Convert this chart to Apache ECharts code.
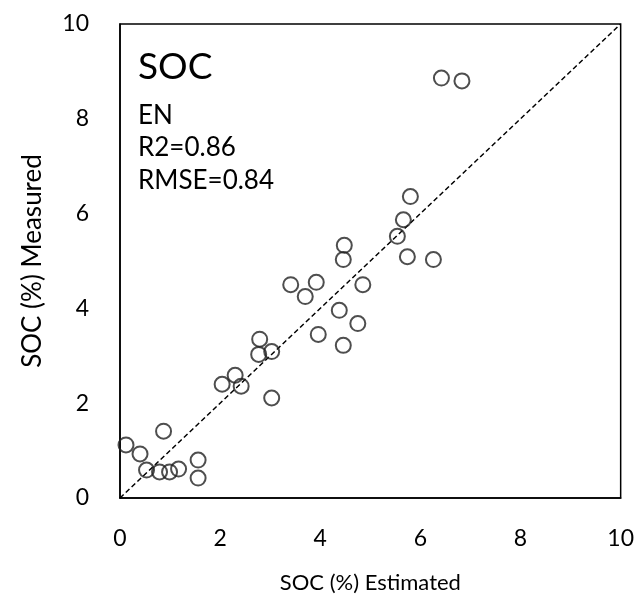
<!DOCTYPE html>
<html>
<head>
<meta charset="utf-8">
<script src="https://cdn.jsdelivr.net/npm/echarts@6/dist/echarts.min.js"></script>
<style>html,body{margin:0;padding:0;background:#fff}#c{width:637px;height:601px}</style>
</head>
<body>
<div id="c"></div>
<script>
var estimated = [0.12,0.40,0.53,0.79,0.99,1.17,0.87,1.56,1.56,2.04,2.30,2.42,3.03,2.79,2.77,3.03,3.41,3.70,3.92,3.96,4.38,4.46,4.48,4.46,4.75,4.85,5.54,5.66,5.80,5.74,6.26,6.42,6.83];
var measured  = [1.12,0.93,0.59,0.55,0.55,0.61,1.41,0.80,0.42,2.40,2.59,2.36,2.11,3.35,3.03,3.09,4.50,4.25,4.55,3.45,3.96,3.22,5.33,5.03,3.68,4.50,5.52,5.87,6.36,5.09,5.03,8.86,8.80];
var oneToOne = [[0,0],[10,10]];
var tickValues = [0,2,4,6,8,10];
var titleText = 'SOC';
var statsLines = ['EN','R2=0.86','RMSE=0.84'];
var xTitle = 'SOC (%) Estimated';
var yTitle = 'SOC (%) Measured';

var pts = estimated.map(function(x,i){return [x, measured[i]];});
var font = 'Lato, "Open Sans", sans-serif';
var chart = echarts.init(document.getElementById('c'), null, {renderer:'canvas'});
chart.setOption({
  animation:false,
  backgroundColor:'#fff',
  grid:{left:120, top:24, right:12, bottom:103, show:true, borderColor:'#000', borderWidth:1.5},
  title:[
    {text:titleText, left:133, top:44, textStyle:{fontFamily:font, fontSize:37, fontWeight:'normal', color:'#000'}},
    {text:statsLines.join('\n'), left:133, top:94, textStyle:{fontFamily:font, fontSize:26, fontWeight:'normal', color:'#000', lineHeight:32.5}}
  ],
  xAxis:{type:'value', min:0, max:10, interval:2,
    name:xTitle, nameLocation:'middle', nameGap:74,
    nameTextStyle:{fontFamily:font, fontSize:22, color:'#000'},
    axisLine:{show:true, lineStyle:{color:'#000', width:1.5}},
    axisTick:{show:false}, splitLine:{show:false},
    axisLabel:{margin:29, fontFamily:font, fontSize:23, color:'#000',
      formatter:function(v){return tickValues.indexOf(v)>=0 ? String(v) : '';}}},
  yAxis:{type:'value', min:0, max:10, interval:2,
    name:yTitle, nameLocation:'middle', nameGap:74,
    nameTextStyle:{fontFamily:font, fontSize:26, color:'#000'},
    axisLine:{show:true, lineStyle:{color:'#000', width:1.5}},
    axisTick:{show:false}, splitLine:{show:false},
    axisLabel:{margin:31, fontFamily:font, fontSize:23, color:'#000',
      formatter:function(v){return tickValues.indexOf(v)>=0 ? String(v) : '';}}},
  series:[
    {type:'line', data:oneToOne, symbol:'none', silent:true,
     lineStyle:{color:'#000', width:1.5, type:[5,3]}, z:1},
    {type:'scatter', data:pts, symbol:'circle', symbolSize:15,
     itemStyle:{color:'rgba(255,255,255,0)', borderColor:'#222', borderWidth:2}, z:2}
  ]
});
</script>
</body>
</html>
